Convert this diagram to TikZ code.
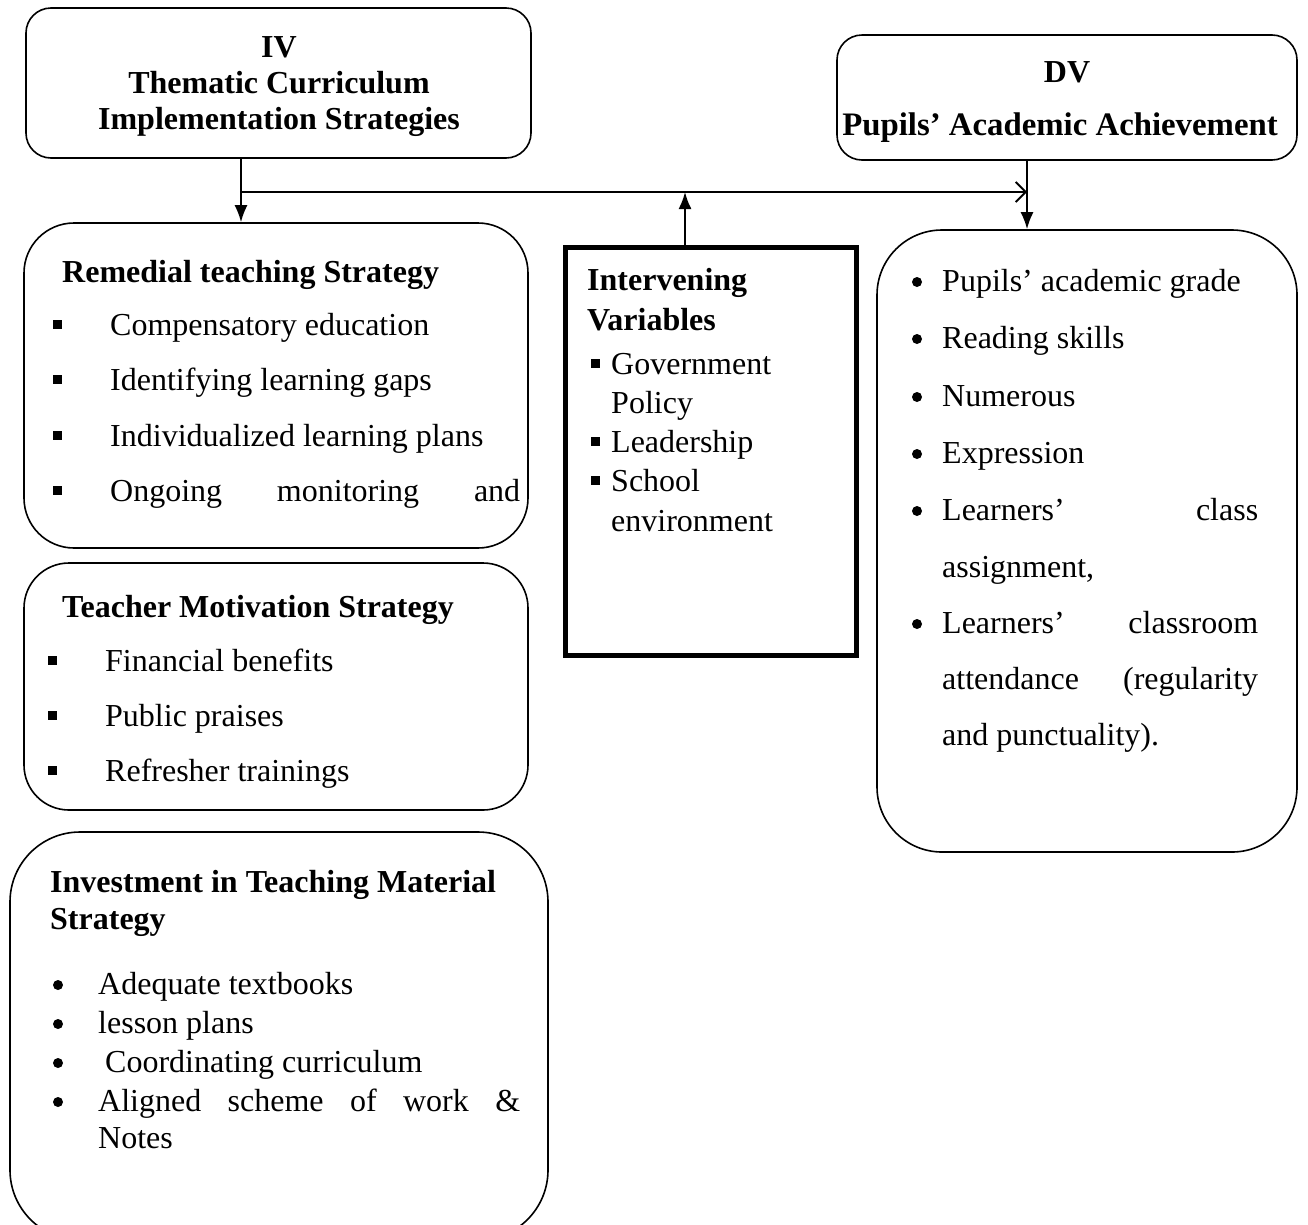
\documentclass[tikz,border=0pt]{standalone}
\usepackage{fontspec}
\setmainfont{Liberation Serif}
\usetikzlibrary{arrows.meta}
\begin{document}
\begin{tikzpicture}[x=1pt,y=-1pt,
 bx/.style={draw,line width=1.6pt,inner sep=0pt},
 tx/.style={anchor=base west,inner sep=0pt,font=\fontsize{32}{38}\selectfont},
 tc/.style={anchor=base,inner sep=0pt,font=\fontsize{32}{38}\selectfont\bfseries},
 hd/.style={anchor=base west,inner sep=0pt,font=\fontsize{32}{38}\selectfont\bfseries},
 sqb/.style={fill,inner sep=0pt,minimum size=9pt},
 rdot/.style={circle,fill,inner sep=0pt,minimum size=10pt},
 arr/.style={line width=1.8pt,-{Latex[length=17pt,width=13pt]}},
 opn/.style={line width=1.8pt,-{Straight Barb[length=10pt,width=20pt]}}]
\useasboundingbox (0,0) rectangle (1308,1224);
\fill[white] (0,0) rectangle (1308,1224);

% boxes
\node[bx,rounded corners=25pt,minimum width=505pt,minimum height=150pt] (iv) at (278.5,83) {};
\node[bx,rounded corners=25pt,minimum width=460pt,minimum height=125pt] (dv) at (1067,97.5) {};
\node[bx,rounded corners=50pt,minimum width=504pt,minimum height=325pt] (rem) at (276,385.5) {};
\node[bx,rounded corners=45pt,minimum width=504pt,minimum height=247pt] (tea) at (276,686.5) {};
\node[bx,rounded corners=70pt,minimum width=538pt,minimum height=408pt] (inv) at (279,1036) {};
\node[draw,line width=5pt,inner sep=0pt,minimum width=291pt,minimum height=408pt] (intv) at (710.5,451) {};
\node[bx,rounded corners=65pt,minimum width=420pt,minimum height=622pt] (dvl) at (1087,541) {};

% connectors
\coordinate (j1) at (241,192);
\coordinate (j2) at (1027,192);
\coordinate (j3) at (685,192);
\draw[arr] (iv.south -| j1) -- (rem.north -| j1);
\draw[opn] (j1) -- (j2);
\draw[arr] (dv.south -| j2) -- (dvl.north -| j2);
\draw[arr] (intv.north -| j3) -- (j3);

% IV / DV titles
\node[tc] (ivA) at (279,57) {IV};
\node[tc] (ivB) at (279,93) {Thematic Curriculum};
\node[tc] (ivC) at (279,129) {Implementation Strategies};
\node[tc] (dvA) at (1067,82) {DV};
\node[tc,font=\fontsize{32.8}{38}\selectfont\bfseries] (dvB) at (1060,135) {Pupils’ Academic Achievement};

% Remedial
\node[hd] (r0) at (62,282) {Remedial teaching Strategy};
\node[sqb] (rb1) at (57,324) {};
\node[sqb] (rb2) at (57,379) {};
\node[sqb] (rb3) at (57,435) {};
\node[sqb] (rb4) at (57,490) {};
\node[tx] (r1) at (110,335) {Compensatory education};
\node[tx] (r2) at (110,390) {Identifying learning gaps};
\node[tx] (r3) at (110,446) {Individualized learning plans};
\node[tx] (r4) at (110,501) {\makebox[410pt][s]{Ongoing monitoring and}};

% Teacher motivation
\node[hd] (m0) at (62,617) {Teacher Motivation Strategy};
\node[sqb] (mb1) at (52,660) {};
\node[sqb] (mb2) at (52,715) {};
\node[sqb] (mb3) at (52,770) {};
\node[tx] (m1) at (105,671) {Financial benefits};
\node[tx] (m2) at (105,726) {Public praises};
\node[tx] (m3) at (105,781) {Refresher trainings};

% Investment
\node[hd] (v0) at (50,892) {Investment in Teaching Material};
\node[hd] (v0b) at (50,929) {Strategy};
\node[rdot] (vb1) at (58,985) {};
\node[rdot] (vb2) at (58,1024) {};
\node[rdot] (vb3) at (58,1063) {};
\node[rdot] (vb4) at (58,1102) {};
\node[tx] (v1) at (98,994) {Adequate textbooks};
\node[tx] (v2) at (98,1033) {lesson plans};
\node[tx] (v3) at (105,1072) {Coordinating curriculum};
\node[tx] (v4) at (98,1111) {\makebox[422pt][s]{Aligned scheme of work \&}};
\node[tx] (v5) at (98,1148) {Notes};

% Intervening
\node[hd] (i0) at (587,290) {Intervening};
\node[hd] (i0b) at (587,330) {Variables};
\node[sqb] (ib1) at (595,363) {};
\node[sqb] (ib2) at (595,441) {};
\node[sqb] (ib3) at (595,480) {};
\node[tx] (i1) at (611,374) {Government};
\node[tx] (i1b) at (611,413) {Policy};
\node[tx] (i2) at (611,452) {Leadership};
\node[tx] (i3) at (611,491) {School};
\node[tx] (i3b) at (611,531) {environment};

% DV list
\node[rdot] (db1) at (917,282) {};
\node[rdot] (db2) at (917,339) {};
\node[rdot] (db3) at (917,397) {};
\node[rdot] (db4) at (917,454) {};
\node[rdot] (db5) at (917,511) {};
\node[rdot] (db6) at (917,624) {};
\node[tx] (d1) at (942,291) {Pupils’ academic grade};
\node[tx] (d2) at (942,348) {Reading skills};
\node[tx] (d3) at (942,406) {Numerous};
\node[tx] (d4) at (942,463) {Expression};
\node[tx] (d5) at (942,520) {\makebox[316pt][s]{Learners’ class}};
\node[tx] (d5b) at (942,577) {assignment,};
\node[tx] (d6) at (942,633) {\makebox[316pt][s]{Learners’ classroom}};
\node[tx] (d6b) at (942,689) {\makebox[316pt][s]{attendance (regularity}};
\node[tx] (d6c) at (942,745) {and punctuality).};
\end{tikzpicture}
\end{document}
